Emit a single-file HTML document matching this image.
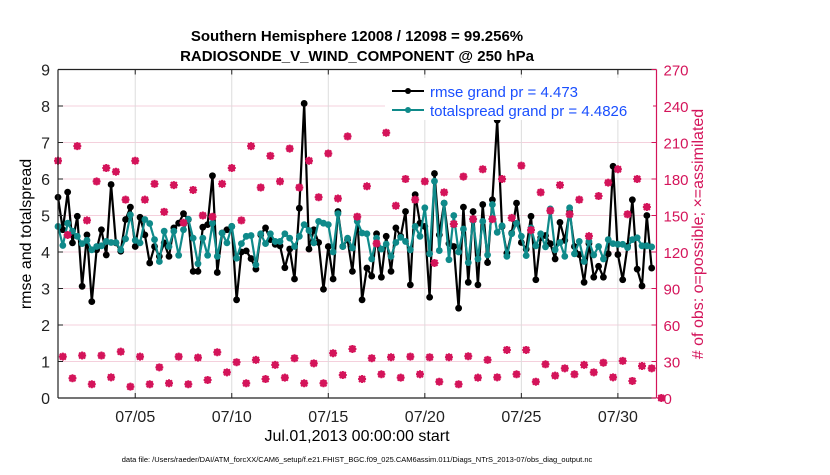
<!DOCTYPE html>
<html><head><meta charset="utf-8"><style>
body{margin:0;background:#fff;width:830px;height:470px;overflow:hidden}
text{font-family:"Liberation Sans",Arial,sans-serif}
</style></head><body>
<svg id="chart" width="830" height="470" xmlns="http://www.w3.org/2000/svg">
<text x="357" y="41" font-size="15" font-weight="bold" text-anchor="middle">Southern Hemisphere 12008 / 12098 = 99.256%</text>
<text x="357" y="61" font-size="15" font-weight="bold" text-anchor="middle">RADIOSONDE_V_WIND_COMPONENT @ 250 hPa</text>
<g id="grid"></g><g id="series"></g><g id="obs"></g><g id="axes"></g>
<text transform="translate(31,234) rotate(-90)" font-size="16" text-anchor="middle">rmse and totalspread</text>
<text transform="translate(703,234) rotate(-90)" font-size="16" text-anchor="middle" fill="#d4145a"># of obs: o=possible; ×=assimilated</text>
<text x="357" y="441" font-size="16" text-anchor="middle">Jul.01,2013 00:00:00 start</text>
<text x="357" y="462" font-size="7.5" text-anchor="middle">data file: /Users/raeder/DAI/ATM_forcXX/CAM6_setup/f.e21.FHIST_BGC.f09_025.CAM6assim.011/Diags_NTrS_2013-07/obs_diag_output.nc</text>
<g>
<rect x="385" y="78" width="268" height="42" fill="#fff"/>
<line x1="392" y1="91" x2="424" y2="91" stroke="#000" stroke-width="2"/><circle cx="408" cy="91" r="3" fill="#000"/>
<text x="430" y="97" font-size="15" fill="#1a4fff">rmse grand pr = 4.473</text>
<line x1="392" y1="110" x2="424" y2="110" stroke="#0f8a8a" stroke-width="2"/><circle cx="408" cy="110" r="3" fill="#0f8a8a"/>
<text x="430" y="116" font-size="15" fill="#1a4fff">totalspread grand pr = 4.4826</text>
</g>
</svg>
<script>
const xTickLabels=["07/05","07/10","07/15","07/20","07/25","07/30"];
const xTickDays=[4,9,14,19,24,29];
const yTicksLeft=[0,1,2,3,4,5,6,7,8,9];
const yTicksRight=[0,30,60,90,120,150,180,210,240,270];
const rmse=[5.50,4.61,5.64,4.25,4.98,3.06,4.47,2.64,4.06,4.61,3.92,5.85,4.25,4.02,4.89,5.23,4.15,4.95,4.47,3.70,4.15,3.88,4.25,3.88,4.66,4.79,5.05,4.89,3.47,3.47,4.68,4.75,6.09,
3.44,4.52,4.61,4.70,2.69,4.00,4.03,3.82,3.53,4.47,4.66,4.34,4.21,4.17,3.57,4.08,3.26,5.20,8.07,4.08,4.61,4.26,2.98,4.15,3.26,5.11,4.15,4.34,3.47,4.93,2.69,
3.56,3.34,4.50,3.31,4.43,3.47,4.66,4.43,5.11,3.10,5.57,4.79,4.70,2.76,6.15,4.47,5.34,4.23,4.15,2.46,5.23,3.17,5.11,3.10,5.30,3.71,5.43,7.61,4.70,3.97,4.52,5.34,
4.26,4.08,4.98,3.24,4.39,4.45,4.23,3.81,4.81,4.32,5.11,4.15,3.93,3.17,4.23,3.31,3.61,3.31,3.95,6.35,3.93,3.24,4.16,5.43,3.53,3.07,5.00,3.56];
const spread=[4.70,4.18,4.79,4.57,4.43,4.23,4.32,4.06,4.15,4.17,4.29,4.26,4.26,4.06,4.36,5.02,4.32,4.25,4.89,4.78,4.34,3.74,4.57,4.15,4.57,3.91,4.61,4.90,4.38,3.68,4.38,3.91,4.79,
3.88,4.52,4.25,4.70,3.83,4.23,4.43,4.45,3.65,4.50,4.23,4.50,4.29,4.29,4.50,4.38,4.15,4.43,4.75,4.59,4.25,4.84,4.79,4.75,4.00,5.05,4.15,4.38,4.11,4.84,4.52,
4.50,3.81,4.38,4.08,4.22,3.88,4.26,4.40,4.29,4.06,4.70,4.43,5.21,3.95,5.94,4.04,5.34,3.79,5.00,4.00,4.63,3.71,4.86,3.81,4.84,3.92,5.30,4.54,4.72,3.88,4.50,4.79,
4.43,3.90,4.66,4.17,4.50,4.14,5.18,4.06,4.26,3.88,5.21,3.95,4.29,3.74,4.29,3.92,4.15,3.81,4.34,4.23,4.21,4.21,4.12,4.34,4.39,4.17,4.17,4.14];
const obsSynoptic=[195,134,207,146,178,189,186,163,195,163,176,153,175,144,171,150,149,176,189,146,207,173,199,178,205,173,195,165,201,164,215,149,
174,127,218,158,180,163,178,111,169,143,182,147,188,147,180,148,191,138,169,154,175,151,163,133,166,177,188,151,180,157];
const obsOffHour=[34,16.2,34.9,11.3,34.9,17,38.1,9.3,34,11.3,25.2,12.1,34,11.3,33.2,14.8,37.6,21.1,29.4,12.1,31.3,15.6,27.2,16.7,32.7,12.1,28.5,12.1,36.8,18.9,40.3,15.6,
32.7,19.5,33.5,16.7,34,19.5,33.5,13.4,33.5,11.3,34.3,16.7,31.3,17,39.5,19.5,39.5,13.4,27.7,18.4,24.4,19.5,27.2,21.1,29,17,30.5,14,26.3,24.4,0];

const NS="http://www.w3.org/2000/svg";
const L=58,R=656.5,T=69.5,B=398,DAYS=31;
const xDay=d=>L+(R-L)*d/DAYS;
const xIdx=i=>xDay(i*0.25);
const yL=v=>B-(B-T)*v/9;
const yR=v=>B-(B-T)*v/270;
function mk(tag,attrs,parent){const e=document.createElementNS(NS,tag);for(const k in attrs)e.setAttribute(k,attrs[k]);parent.appendChild(e);return e;}
const grid=document.getElementById('grid'),axes=document.getElementById('axes'),ser=document.getElementById('series'),obsG=document.getElementById('obs');
mk('rect',{x:L,y:T,width:R-L,height:B-T,fill:'#fff'},grid);
yTicksRight.forEach(v=>{if(v>0&&v<270){const g=mk('line',{x1:L,x2:R,y1:yR(v),y2:yR(v),stroke:'#f4d0dc','stroke-width':1},grid);

}});
xTickDays.forEach((d,k)=>{const g=mk('line',{x1:xDay(d),x2:xDay(d),y1:T,y2:B,stroke:'#dcdcdc','stroke-width':1},grid);


const t=mk('text',{x:xDay(d),y:B+24,'font-size':16,'text-anchor':'middle',fill:'#222'},axes);t.textContent=xTickLabels[k];


mk('line',{x1:xDay(d),x2:xDay(d),y1:B,y2:B-5,stroke:'#222'},axes);mk('line',{x1:xDay(d),x2:xDay(d),y1:T,y2:T+5,stroke:'#222'},axes);});
mk('line',{x1:L,x2:R,y1:B,y2:B,stroke:'#222','stroke-width':1.2},axes);
mk('line',{x1:L,x2:R,y1:T,y2:T,stroke:'#222','stroke-width':1.2},axes);
const la=mk('line',{x1:L,x2:L,y1:T,y2:B,stroke:'#222','stroke-width':1.2},axes);


const ra=mk('line',{x1:R,x2:R,y1:T,y2:B,stroke:'#d4145a','stroke-width':1.2},axes);


yTicksLeft.forEach(v=>{mk('line',{x1:L,x2:L+5,y1:yL(v),y2:yL(v),stroke:'#222'},axes);
const t=mk('text',{x:L-8,y:yL(v)+6,'font-size':16,'text-anchor':'end',fill:'#222'},axes);t.textContent=v;

});
yTicksRight.forEach(v=>{mk('line',{x1:R,x2:R-5,y1:yR(v),y2:yR(v),stroke:'#d4145a'},axes);
const t=mk('text',{x:R+7,y:yR(v)+6,'font-size':15,fill:'#d4145a'},axes);t.textContent=v;

});
function line(vals,color,name){
const pts=vals.map((v,i)=>xIdx(i).toFixed(1)+','+yL(v).toFixed(1)).join(' ');
const p=mk('polyline',{points:pts,fill:'none',stroke:color,'stroke-width':2.2,'stroke-linejoin':'round'},ser);


vals.forEach((v,i)=>{const c=mk('circle',{cx:xIdx(i),cy:yL(v),r:3.4,fill:color},ser);

});}
line(rmse,'#000','rmse');
line(spread,'#0f8a8a','totalspread');
function obsMark(i,v){const x=xIdx(i),y=yR(v),c='#d4145a';
const g=mk('g',{},obsG);


mk('circle',{cx:x,cy:y,r:2.8,fill:'none',stroke:c,'stroke-width':1.5},g);
mk('path',{d:`M${x-4},${y}H${x+4}M${x},${y-4}V${y+4}M${x-3},${y-3}L${x+3},${y+3}M${x-3},${y+3}L${x+3},${y-3}`,stroke:c,'stroke-width':2},g);}
obsSynoptic.forEach((v,k)=>obsMark(2*k,v));
obsOffHour.forEach((v,k)=>obsMark(2*k+1,v));
</script>
</body></html>
